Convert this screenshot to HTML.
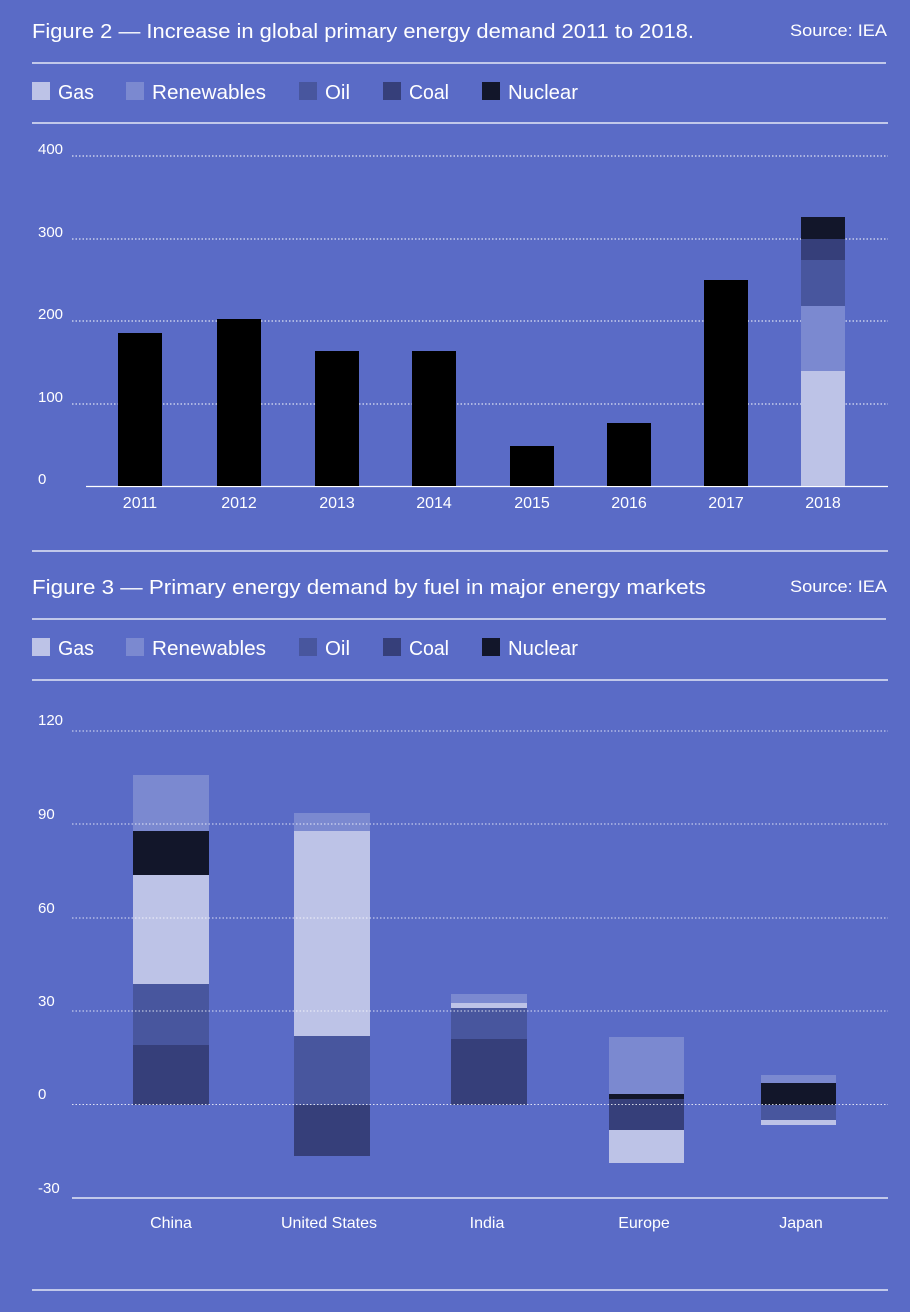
<!DOCTYPE html>
<html><head><meta charset="utf-8"><style>
html,body{margin:0;padding:0;background:#5a6bc6;}
svg{display:block;font-family:"Liberation Sans",sans-serif;}
</style></head><body>
<svg width="910" height="1312" viewBox="0 0 910 1312" xmlns="http://www.w3.org/2000/svg">
<rect width="910" height="1312" fill="#5a6bc6"/>
<g fill="#fff">
<text x="32" y="38" font-size="20" textLength="662" lengthAdjust="spacingAndGlyphs">Figure 2 — Increase in global primary energy demand 2011 to 2018.</text>
<text x="887" y="36" font-size="17" text-anchor="end" textLength="97" lengthAdjust="spacingAndGlyphs">Source: IEA</text>
<text x="32" y="594" font-size="20" textLength="674" lengthAdjust="spacingAndGlyphs">Figure 3 — Primary energy demand by fuel in major energy markets</text>
<text x="887" y="592" font-size="17" text-anchor="end" textLength="97" lengthAdjust="spacingAndGlyphs">Source: IEA</text>
</g>
<g stroke="#fff" stroke-width="1.3">
<line x1="32" y1="63" x2="886" y2="63"/><line x1="32" y1="123" x2="888" y2="123"/>
<line x1="32" y1="551" x2="888" y2="551"/><line x1="32" y1="619" x2="886" y2="619"/>
<line x1="32" y1="680" x2="888" y2="680"/><line x1="32" y1="1290" x2="888" y2="1290"/>
<line x1="86" y1="486.5" x2="888" y2="486.5"/><line x1="72" y1="1198" x2="888" y2="1198"/>
</g>
<!-- legends -->
<g font-size="20" fill="#fff">
<g transform="translate(0,82)">
<rect x="32" y="0" width="18" height="18" fill="#bdc3e7"/><text x="58" y="17" textLength="36" lengthAdjust="spacingAndGlyphs">Gas</text>
<rect x="126" y="0" width="18" height="18" fill="#7b89d0"/><text x="152" y="17" textLength="114" lengthAdjust="spacingAndGlyphs">Renewables</text>
<rect x="299" y="0" width="18" height="18" fill="#48569e"/><text x="325" y="17" textLength="25" lengthAdjust="spacingAndGlyphs">Oil</text>
<rect x="383" y="0" width="18" height="18" fill="#363f7a"/><text x="409" y="17" textLength="40" lengthAdjust="spacingAndGlyphs">Coal</text>
<rect x="482" y="0" width="18" height="18" fill="#12162a"/><text x="508" y="17" textLength="70" lengthAdjust="spacingAndGlyphs">Nuclear</text>
</g>
<g transform="translate(0,638)">
<rect x="32" y="0" width="18" height="18" fill="#bdc3e7"/><text x="58" y="17" textLength="36" lengthAdjust="spacingAndGlyphs">Gas</text>
<rect x="126" y="0" width="18" height="18" fill="#7b89d0"/><text x="152" y="17" textLength="114" lengthAdjust="spacingAndGlyphs">Renewables</text>
<rect x="299" y="0" width="18" height="18" fill="#48569e"/><text x="325" y="17" textLength="25" lengthAdjust="spacingAndGlyphs">Oil</text>
<rect x="383" y="0" width="18" height="18" fill="#363f7a"/><text x="409" y="17" textLength="40" lengthAdjust="spacingAndGlyphs">Coal</text>
<rect x="482" y="0" width="18" height="18" fill="#12162a"/><text x="508" y="17" textLength="70" lengthAdjust="spacingAndGlyphs">Nuclear</text>
</g>
</g>
<!-- chart 1 grid -->
<g stroke="#fff" stroke-width="1" stroke-dasharray="1.5 2">
<line x1="72" y1="156" x2="888" y2="156"/><line x1="72" y1="239" x2="888" y2="239"/>
<line x1="72" y1="321" x2="888" y2="321"/><line x1="72" y1="404" x2="888" y2="404"/>
</g>
<g font-size="15" fill="#fff">
<text x="38" y="154">400</text><text x="38" y="237">300</text><text x="38" y="319">200</text><text x="38" y="402">100</text><text x="38" y="484">0</text>
</g>
<g fill="#000">
<rect x="118" y="333" width="44" height="153"/>
<rect x="217" y="319" width="44" height="167"/>
<rect x="315" y="351" width="44" height="135"/>
<rect x="412" y="351" width="44" height="135"/>
<rect x="510" y="446" width="44" height="40"/>
<rect x="607" y="423" width="44" height="63"/>
<rect x="704" y="280" width="44" height="206"/>
</g>
<rect x="801" y="371" width="44" height="115" fill="#bdc3e7"/>
<rect x="801" y="306" width="44" height="65" fill="#7b89d0"/>
<rect x="801" y="260" width="44" height="46" fill="#48569e"/>
<rect x="801" y="239" width="44" height="21" fill="#363f7a"/>
<rect x="801" y="217" width="44" height="22" fill="#12162a"/>
<g font-size="16" fill="#fff" text-anchor="middle">
<text x="140" y="508">2011</text><text x="239" y="508">2012</text><text x="337" y="508">2013</text><text x="434" y="508">2014</text>
<text x="532" y="508">2015</text><text x="629" y="508">2016</text><text x="726" y="508">2017</text><text x="823" y="508">2018</text>
</g>
<!-- chart 2 bars -->
<rect x="133" y="1045" width="76" height="60" fill="#363f7a"/>
<rect x="133" y="984" width="76" height="61" fill="#48569e"/>
<rect x="133" y="875" width="76" height="109" fill="#bdc3e7"/>
<rect x="133" y="831" width="76" height="44" fill="#12162a"/>
<rect x="133" y="775" width="76" height="56" fill="#7b89d0"/>
<rect x="294" y="1105" width="76" height="51" fill="#363f7a"/>
<rect x="294" y="1036" width="76" height="69" fill="#48569e"/>
<rect x="294" y="831" width="76" height="205" fill="#bdc3e7"/>
<rect x="294" y="813" width="76" height="18" fill="#7b89d0"/>
<rect x="451" y="1039" width="76" height="66" fill="#363f7a"/>
<rect x="451" y="1008" width="76" height="31" fill="#48569e"/>
<rect x="451" y="1003" width="76" height="5" fill="#bdc3e7"/>
<rect x="451" y="994" width="76" height="9" fill="#7b89d0"/>
<rect x="609" y="1037" width="75" height="57" fill="#7b89d0"/>
<rect x="609" y="1094" width="75" height="5" fill="#12162a"/>
<rect x="609" y="1099" width="75" height="31" fill="#363f7a"/>
<rect x="609" y="1130" width="75" height="33" fill="#bdc3e7"/>
<rect x="761" y="1075" width="75" height="8" fill="#7b89d0"/>
<rect x="761" y="1083" width="75" height="22" fill="#12162a"/>
<rect x="761" y="1105" width="75" height="15" fill="#48569e"/>
<rect x="761" y="1120" width="75" height="5" fill="#bdc3e7"/>
<g stroke="#fff" stroke-width="1" stroke-dasharray="1.5 2" stroke-opacity="0.8">
<line x1="72" y1="731" x2="888" y2="731"/><line x1="72" y1="824" x2="888" y2="824"/>
<line x1="72" y1="918" x2="888" y2="918"/><line x1="72" y1="1011" x2="888" y2="1011"/>
<line x1="72" y1="1104.5" x2="888" y2="1104.5"/>
</g>
<g font-size="15" fill="#fff">
<text x="38" y="725">120</text><text x="38" y="819">90</text><text x="38" y="913">60</text><text x="38" y="1006">30</text><text x="38" y="1099">0</text><text x="38" y="1193">-30</text>
</g>
<g font-size="16" fill="#fff" text-anchor="middle">
<text x="171" y="1228">China</text><text x="329" y="1228">United States</text><text x="487" y="1228">India</text><text x="644" y="1228">Europe</text><text x="801" y="1228">Japan</text>
</g>
</svg>
</body></html>
